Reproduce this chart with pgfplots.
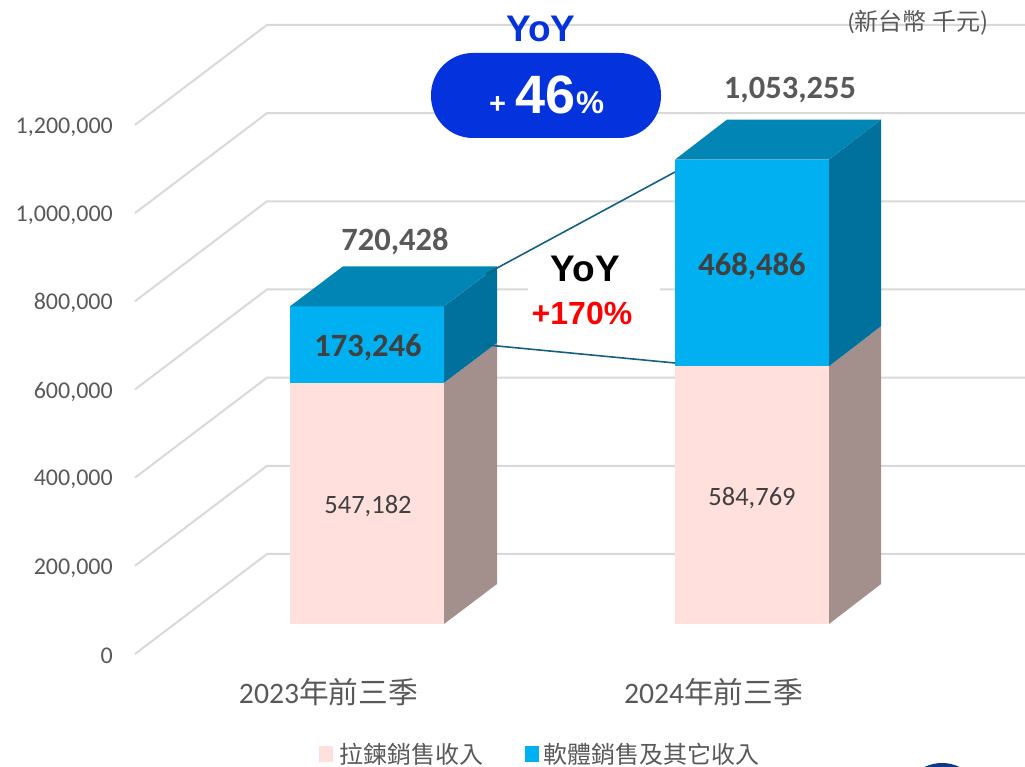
\documentclass[border=0pt]{standalone}
\usepackage{fontspec}
\usepackage{pgfplots}
\pgfplotsset{compat=1.18}
\setmainfont{Carlito}
\newfontfamily\cjk{Noto Sans CJK TC}
\newfontfamily\arial{Liberation Sans}
\definecolor{gridc}{HTML}{D9D9D9}
\definecolor{txt}{HTML}{595959}
\definecolor{txtdark}{HTML}{404040}
\definecolor{pinkf}{HTML}{FFE0DC}
\definecolor{pinks}{HTML}{A38F8B}
\definecolor{bluef}{HTML}{00B0F0}
\definecolor{bluet}{HTML}{0085B5}
\definecolor{blues}{HTML}{00709C}
\definecolor{pill}{HTML}{0432DC}
\definecolor{conn}{HTML}{156082}
\definecolor{logo}{HTML}{0B3A8C}
\newcommand{\fs}[1]{\fontsize{#1}{#1}\selectfont}
\pgfplotsset{
  face/.style={draw=none, fill=#1, forget plot, y filter/.expression={y+68040}},
  gline/.style={gridc, line width=2pt, forget plot},
}
\begin{document}
\begin{tikzpicture}
\path[use as bounding box] (0,0) rectangle (1025pt,766pt);
\begin{axis}[
  at={(0,0)}, anchor=south west,
  scale only axis, width=1025pt, height=766pt,
  xmin=0, xmax=1025, ymin=-254016, ymax=1483272,
  axis line style={draw=none}, tick style={draw=none},
  ytick={0,200000,400000,600000,800000,1000000,1200000},
  scaled y ticks=false,
  yticklabel style={/pgf/number format/.cd, fixed, 1000 sep={,}, assume math mode=true,
    /tikz/.cd, anchor=east, inner sep=0pt, xshift=113pt, yshift=-2pt, text=txt, font=\fs{24}},
  xtick={328.5,713.5},
  xticklabels={{2023{\cjk 年前三季}},{2024{\cjk 年前三季}}},
  xticklabel style={anchor=center, inner sep=0pt, yshift=74pt, text=txt, font=\fs{29.7}},
]
% back wall grid
\addplot[gline] coordinates {(135,0) (267,226800) (1025,226800)};
\addplot[gline] coordinates {(135,200000) (267,426800) (1025,426800)};
\addplot[gline] coordinates {(135,400000) (267,626800) (1025,626800)};
\addplot[gline] coordinates {(135,600000) (267,826800) (1025,826800)};
\addplot[gline] coordinates {(135,800000) (267,1026800) (1025,1026800)};
\addplot[gline] coordinates {(135,1000000) (267,1226800) (1025,1226800)};
\addplot[gline] coordinates {(135,1200000) (267,1426800) (1025,1426800)};
% 2023 bar
\addplot[face=pinkf] coordinates {(290,0) (444,0) (444,547182) (290,547182)} --cycle;
\addplot[face=pinks] coordinates {(444,0) (497,90720) (497,637902) (444,547182)} --cycle;
\addplot[face=bluef] coordinates {(290,547182) (444,547182) (444,720428) (290,720428)} --cycle;
\addplot[face=blues] coordinates {(444,547182) (497,637902) (497,811148) (444,720428)} --cycle;
\addplot[face=bluet] coordinates {(290,720428) (444,720428) (497,811148) (343,811148)} --cycle;
% 2024 bar
\addplot[face=pinkf] coordinates {(675,0) (829,0) (829,584769) (675,584769)} --cycle;
\addplot[face=pinks] coordinates {(829,0) (881,90720) (881,675489) (829,584769)} --cycle;
\addplot[face=bluef] coordinates {(675,584769) (829,584769) (829,1053255) (675,1053255)} --cycle;
\addplot[face=blues] coordinates {(829,584769) (881,675489) (881,1143975) (829,1053255)} --cycle;
\addplot[face=bluet] coordinates {(675,1053255) (829,1053255) (881,1143975) (727,1143975)} --cycle;
\end{axis}
% overlay, coordinates in image pixels
\begin{scope}[x=1pt, y=-1pt, yshift=766pt]
\fill[white] (528,250) rectangle (660,330);
\draw[conn, line width=1.6pt] (486,274) -- (675,172);
\draw[conn, line width=1.6pt] (487,345) -- (675,363);
\fill[pill, rounded corners=42pt] (431,53) rectangle (661,138);
\node[text=pill, font=\arial\bfseries\fs{37}, inner sep=0pt] at (541,29) {YoY};
\node[text=white, font=\arial\bfseries, inner sep=0pt, anchor=base] at (546.5,113.5)
  {{\fs{29}+}\hspace{10pt}{\fs{54}46}{\fs{31.5}\%}};
\node[text=black, font=\arial\bfseries\fs{37}, inner sep=0pt] at (585.5,268.5) {YoY};
\node[text=red, font=\arial\bfseries\fs{32}, inner sep=0pt] at (582,313.5) {+170\%};
\node[text=txt, font=\bfseries\fs{32.5}, inner sep=0pt] at (395,241) {720,428};
\node[text=txt, font=\bfseries\fs{32.5}, inner sep=0pt] at (790,90) {1,053,255};
\node[text=txtdark, font=\bfseries\fs{32.5}, inner sep=0pt] at (368,348) {173,246};
\node[text=txtdark, font=\bfseries\fs{32.5}, inner sep=0pt] at (752,266) {468,486};
\node[text=txtdark, font=\fs{26.5}, inner sep=0pt] at (368,506) {547,182};
\node[text=txtdark, font=\fs{26.5}, inner sep=0pt] at (752,498) {584,769};
\node[text=txt, font=\fs{24}, inner sep=0pt, anchor=east] at (988.5,22.5) {(\cjk 新台幣 千元)};
\fill[pinkf] (319,746) rectangle (333,762);
\node[text=txt, font=\cjk\fs{24}, inner sep=0pt, anchor=west] at (339,754) {拉鍊銷售收入};
\fill[bluef] (525,746) rectangle (539,762);
\node[text=txt, font=\cjk\fs{24}, inner sep=0pt, anchor=west] at (543,754) {軟體銷售及其它收入};
\begin{scope}
\clip (900,755) rectangle (985,766);
\fill[logo] (942,803) circle (40);
\end{scope}
\end{scope}
\end{tikzpicture}
\end{document}
